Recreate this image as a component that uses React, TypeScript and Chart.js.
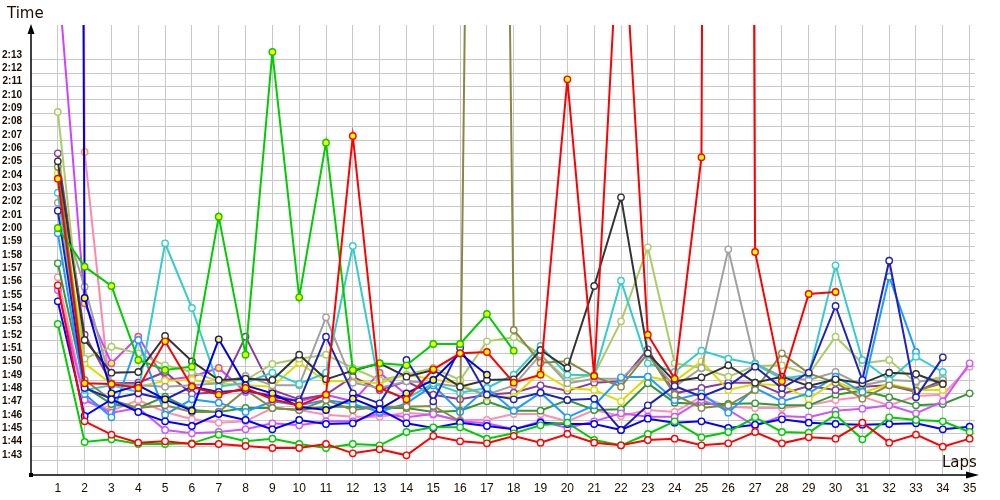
import React, { useEffect, useRef } from 'react';
import { Chart, registerables } from 'chart.js';

Chart.register(...registerables);

// Lap numbers (x tick labels)
const lapTicks = [1, 2, 3, 4, 5, 6, 7, 8, 9, 10, 11, 12, 13, 14, 15, 16, 17, 18, 19, 20, 21, 22, 23, 24, 25, 26, 27, 28, 29, 30, 31, 32, 33, 34, 35];
// Lap-time ticks in seconds (1:43 .. 2:13)
const timeTicks = [103, 104, 105, 106, 107, 108, 109, 110, 111, 112, 113, 114, 115, 116, 117, 118, 119, 120, 121, 122, 123, 124, 125, 126, 127, 128, 129, 130, 131, 132, 133];

// Lap times in seconds, index 0 = lap 1
const redSpike = [124.1, 108.75, 108.7, 108.4, 111.9, 108.5, 107.9, 108.4, 107.55, 107.1, 107.9, 127.3, 108.4, 107.55, 109.8, 111.0, 111.1, 108.8, 109.4, 131.55, 109.3, 146.6, 112.4, 109.1, 125.7, 600, 118.6, 108.9, 115.45, 115.6];
const redLow = [116.1, 105.9, 104.9, 104.3, 104.4, 104.2, 104.2, 104.05, 103.9, 103.9, 104.2, 103.5, 103.8, 103.35, 104.8, 104.4, 104.25, 104.8, 104.3, 104.95, 104.3, 104.1, 104.5, 104.6, 104.1, 104.25, 105.1, 104.25, 104.7, 104.6, 105.8, 104.3, 104.9, 104.0, 104.6];
const greenLow = [113.2, 104.35, 104.55, 104.2, 104.2, 104.25, 104.9, 104.4, 104.6, 104.2, 103.9, 104.2, 104.1, 105.1, 105.45, 105.45, 104.6, 105.0, 105.6, 105.8, 104.5, 104.1, 104.95, 105.9, 104.7, 105.1, 106.2, 105.1, 105.05, 106.4, 104.55, 106.2, 106.0, 105.9, 105.1];
const blueLow = [114.9, 106.3, 107.55, 106.6, 105.9, 105.55, 106.45, 106.0, 105.3, 106.0, 105.7, 105.75, 106.8, 105.75, 105.4, 105.8, 105.55, 105.3, 105.8, 105.7, 105.7, 105.25, 106.1, 105.8, 105.9, 105.4, 105.65, 106.05, 105.8, 105.7, 105.65, 105.7, 105.75, 105.3, 105.5];
const greenSpike = [120.4, 117.5, 116.05, 110.5, 109.75, 110.0, 121.25, 110.9, 133.6, 115.2, 126.8, 109.75, 110.25, 110.1, 111.7, 111.7, 113.95, 111.2];
const blueYellow = [600, 115.15, 108.0, 108.6, 107.55, 106.7, 112.05, 108.6, 108.0, 107.0, 106.75, 107.6, 106.8, 108.0, 109.0, 111.0, 109.4];
const olive = [125.0, 109.0, 107.5, 106.9, 107.1, 106.6, 106.6, 108.25, 106.9, 106.75, 107.5, 106.75, 107.0, 107.0, 107.05, 105.9, 276, 112.75, 110.3, 110.4, 109.25, 108.5, 111.0, 107.9, 106.9, 107.1, 108.25, 111.0, 109.5, 108.8, 107.6, 108.6, 108.2, 108.75];
const darkGreen = [117.75, 108.5, 107.2, 106.9, 107.75, 106.75, 106.6, 106.9, 106.9, 106.75, 107.0, 107.0, 106.9, 106.9, 106.6, 106.7, 107.4, 106.7, 106.7, 107.5, 106.75, 106.8, 108.75, 107.3, 107.2, 107.2, 107.25, 107.1, 107.1, 107.9, 108.2, 107.7, 107.1, 107.2, 108.0];
const black = [125.4, 112.0, 109.55, 109.6, 112.3, 110.4, 109.0, 109.1, 109.0, 110.9, 109.05, 109.7, 110.25, 109.25, 109.75, 108.5, 109.0, 109.05, 111.25, 109.9, 116.05, 122.7, 111.0, 108.9, 109.2, 110.1, 108.8, 109.25, 108.55, 109.05, 108.75, 109.55, 109.45, 108.7];
const gray = [122.3, 116.0, 108.7, 108.6, 108.5, 108.6, 108.75, 109.3, 108.6, 108.6, 113.7, 108.8, 108.4, 108.9, 108.75, 108.5, 107.9, 108.6, 110.9, 108.75, 109.1, 109.1, 110.9, 108.5, 109.9, 118.8, 110.25, 109.25, 109.0, 109.6, 108.6, 109.0, 108.9, 109.0];
const yellowGreen = [129.1, 110.6, 111.5, 111.0, 110.1, 109.6, 108.9, 109.0, 110.2, 110.6, 110.9, 109.9, 109.0, 109.4, 109.9, 109.0, 111.9, 112.2, 110.9, 109.0, 109.4, 113.4, 118.95, 110.25, 109.9, 109.25, 110.05, 110.1, 109.4, 112.25, 110.25, 110.5, 108.8, 109.25];
const cyan = [123.05, 108.25, 108.6, 108.1, 119.25, 114.4, 108.5, 108.8, 109.55, 108.7, 109.55, 119.05, 108.4, 107.6, 108.75, 108.05, 108.4, 109.4, 111.55, 109.4, 109.35, 116.45, 110.25, 109.6, 111.2, 110.6, 110.2, 109.1, 109.4, 117.6, 110.5, 109.0, 110.75, 109.6];
const lightBlue = [120.0, 107.95, 106.2, 112.0, 106.4, 107.55, 107.3, 106.6, 107.4, 107.1, 107.5, 107.2, 106.6, 107.25, 108.6, 106.6, 108.4, 106.7, 108.05, 106.2, 107.1, 109.2, 109.25, 107.5, 108.0, 106.55, 108.4, 107.4, 108.0, 109.25, 108.1, 116.75, 111.1];
const navy = [121.7, 108.4, 107.6, 108.0, 107.55, 108.5, 108.1, 108.25, 107.75, 107.4, 112.25, 108.0, 107.25, 110.5, 107.4, 111.4, 107.9, 107.55, 108.05, 107.5, 107.6, 105.25, 107.1, 108.55, 107.75, 108.55, 110.0, 108.4, 109.55, 114.55, 109.0, 117.95, 107.7, 110.7];
const purple = [126.0, 112.4, 108.75, 108.8, 109.6, 107.95, 108.1, 112.25, 108.25, 107.55, 107.9, 109.25, 108.25, 108.9, 107.9, 107.55, 107.9, 108.05, 108.6, 108.2, 108.8, 108.9, 111.3, 108.0, 108.4, 108.8, 108.8, 107.95, 108.55, 108.25, 108.5, 108.6, 108.1, 109.0];
const yellow = [124.5, 110.25, 108.7, 108.5, 108.95, 109.0, 108.75, 108.6, 108.5, 110.3, 108.9, 108.9, 108.75, 109.4, 109.05, 108.7, 107.75, 107.75, 109.6, 108.4, 108.25, 107.4, 109.25, 108.9, 110.4, 108.25, 108.7, 108.6, 107.6, 108.9, 108.05, 108.7, 108.25, 108.25];
const pinkA = [600, 126.1, 107.0];
const violetHigh = [139.5, 114.75, 110.25, 112.25, 109.0, 109.25, 109.9, 108.1, 107.9, 107.4, 107.9, 107.4, 109.55, 107.9];
const violetLow = [115.75, 107.5, 106.55, 106.9, 105.25, 105.0, 105.1, 105.3, 105.75, 105.6, 105.9, 105.9, 106.5, 106.2, 106.45, 105.9, 105.75, 105.3, 105.9, 105.4, 105.9, 106.5, 106.25, 106.25, 107.5, 106.75, 105.55, 106.3, 106.2, 106.7, 106.85, 107.1, 106.5, 107.4, 110.25];
const pinkB = [116.7, 107.55, 106.7, 107.5, 106.6, 106.05, 105.8, 105.9, 106.9, 106.75, 106.4, 106.25, 106.25, 106.55, 106.4, 106.0, 106.0, 106.45, 106.45, 105.9, 106.75, 106.3, 106.75, 106.6, 107.75, 107.0, 106.9, 106.9, 107.1, 107.5, 107.75, 107.1, 107.8, 107.9, 110.0];

const YELLOW = '#ffff00';
const WHITE = '#ffffff';

// drawing order: first = on top
const seriesList = [
  { values: redSpike, color: '#ff0000', marker: YELLOW },
  { values: redLow, color: '#ff0000', marker: WHITE },
  { values: greenLow, color: '#00cc00', marker: WHITE },
  { values: greenSpike, color: '#00cc00', marker: YELLOW },
  { values: blueLow, color: '#0000ff', marker: WHITE },
  { values: blueYellow, color: '#0000dd', marker: YELLOW },
  { values: navy, color: '#2020bb', marker: WHITE },
  { values: black, color: '#333333', marker: WHITE },
  { values: olive, color: '#888844', marker: WHITE },
  { values: cyan, color: '#33cccc', marker: WHITE },
  { values: lightBlue, color: '#1e9bff', marker: WHITE },
  { values: gray, color: '#a0a0a0', marker: WHITE },
  { values: yellowGreen, color: '#aacc66', marker: WHITE },
  { values: yellow, color: '#dddd00', marker: WHITE },
  { values: purple, color: '#8a3c96', marker: WHITE },
  { values: violetHigh, color: '#cc44ff', marker: YELLOW },
  { values: violetLow, color: '#cc55ff', marker: WHITE },
  { values: darkGreen, color: '#339933', marker: WHITE },
  { values: pinkA, color: '#ff88aa', marker: YELLOW },
  { values: pinkB, color: '#ff8fb0', marker: WHITE },
];

function fmtTime(v: number): string {
  const m = Math.floor(v / 60);
  const s = Math.round(v - m * 60);
  return m + ':' + String(s).padStart(2, '0');
}

const axesPlugin = {
  id: 'customAxes',
  afterDraw(chart: any) {
    const ctx = chart.ctx;
    const { left, top, right, bottom } = chart.chartArea;
    ctx.save();
    ctx.strokeStyle = '#000';
    ctx.fillStyle = '#000';
    ctx.lineWidth = 1.5;
    // y axis line + arrow
    ctx.beginPath();
    ctx.moveTo(left, bottom);
    ctx.lineTo(left, top + 6);
    ctx.stroke();
    ctx.beginPath();
    ctx.moveTo(left, top - 1);
    ctx.lineTo(left - 3.5, top + 9);
    ctx.lineTo(left + 3.5, top + 9);
    ctx.closePath();
    ctx.fill();
    // x axis line + arrow
    ctx.beginPath();
    ctx.moveTo(left, bottom);
    ctx.lineTo(right - 2, bottom);
    ctx.stroke();
    ctx.beginPath();
    ctx.moveTo(right + 4, bottom);
    ctx.lineTo(right - 9, bottom - 3.5);
    ctx.lineTo(right - 9, bottom + 3.5);
    ctx.closePath();
    ctx.fill();
    // origin marker
    ctx.fillRect(left - 2, bottom - 2, 4, 4);
    // axis titles
    ctx.fillStyle = '#1a0d00';
    ctx.font = '15px "DejaVu Sans"';
    ctx.textBaseline = 'middle';
    ctx.textAlign = 'left';
    ctx.fillText('Time', 7, 14);
    ctx.fillText('Laps', 942, 463);
    ctx.restore();
  },
};

export default function App() {
  const canvasRef = useRef<HTMLCanvasElement | null>(null);

  useEffect(() => {
    const canvas = canvasRef.current;
    if (!canvas) return;
    const datasets = seriesList.map((s) => ({
      data: s.values.map((v, i) => ({ x: lapTicks[i], y: v })),
      borderColor: s.color,
      backgroundColor: s.color,
      pointBackgroundColor: s.marker,
      pointBorderColor: s.color,
      pointRadius: 3.2,
      pointBorderWidth: 1.4,
      borderWidth: 2,
      tension: 0,
      fill: false,
      clip: { left: 0, top: 0, right: 10, bottom: 0 },
    }));

    const chart = new Chart(canvas, {
      type: 'line',
      data: { datasets },
      plugins: [axesPlugin],
      options: {
        responsive: false,
        animation: false,
        devicePixelRatio: 1,
        layout: { padding: { top: 25, right: 25, left: 0, bottom: 0 } },
        plugins: {
          legend: { display: false },
          tooltip: { enabled: false },
        },
        scales: {
          x: {
            type: 'linear',
            min: 0,
            max: 35.2,
            afterFit: (scale: any) => {
              scale.height = 25;
            },
            afterBuildTicks: (scale: any) => {
              scale.ticks = lapTicks.map((v) => ({ value: v }));
            },
            border: { display: false },
            grid: { color: '#c8c8c8', lineWidth: 1, drawTicks: false },
            ticks: {
              autoSkip: false,
              maxRotation: 0,
              padding: 6,
              color: '#1a0d00',
              font: { family: '"Liberation Sans", Arial', size: 12 },
              callback: (v: any) => String(v),
            },
          },
          y: {
            type: 'linear',
            min: 101.875,
            max: 135.625,
            afterFit: (scale: any) => {
              scale.width = 31;
            },
            afterBuildTicks: (scale: any) => {
              scale.ticks = timeTicks.map((v) => ({ value: v }));
            },
            border: { display: false },
            grid: { color: '#c8c8c8', lineWidth: 1, drawTicks: false },
            ticks: {
              autoSkip: false,
              padding: 9,
              labelOffset: -5,
              color: '#1a0d00',
              font: { family: '"Liberation Sans", Arial', size: 10, weight: 'bold' },
              callback: (v: any) => fmtTime(Number(v)),
            },
          },
        },
      },
    });
    return () => chart.destroy();
  }, []);

  return (
    <div style={{ position: 'absolute', left: 0, top: 0, width: 1000, height: 500, background: '#fff' }}>
      <canvas ref={canvasRef} width={1000} height={500} style={{ display: 'block', width: 1000, height: 500 }} />
    </div>
  );
}
